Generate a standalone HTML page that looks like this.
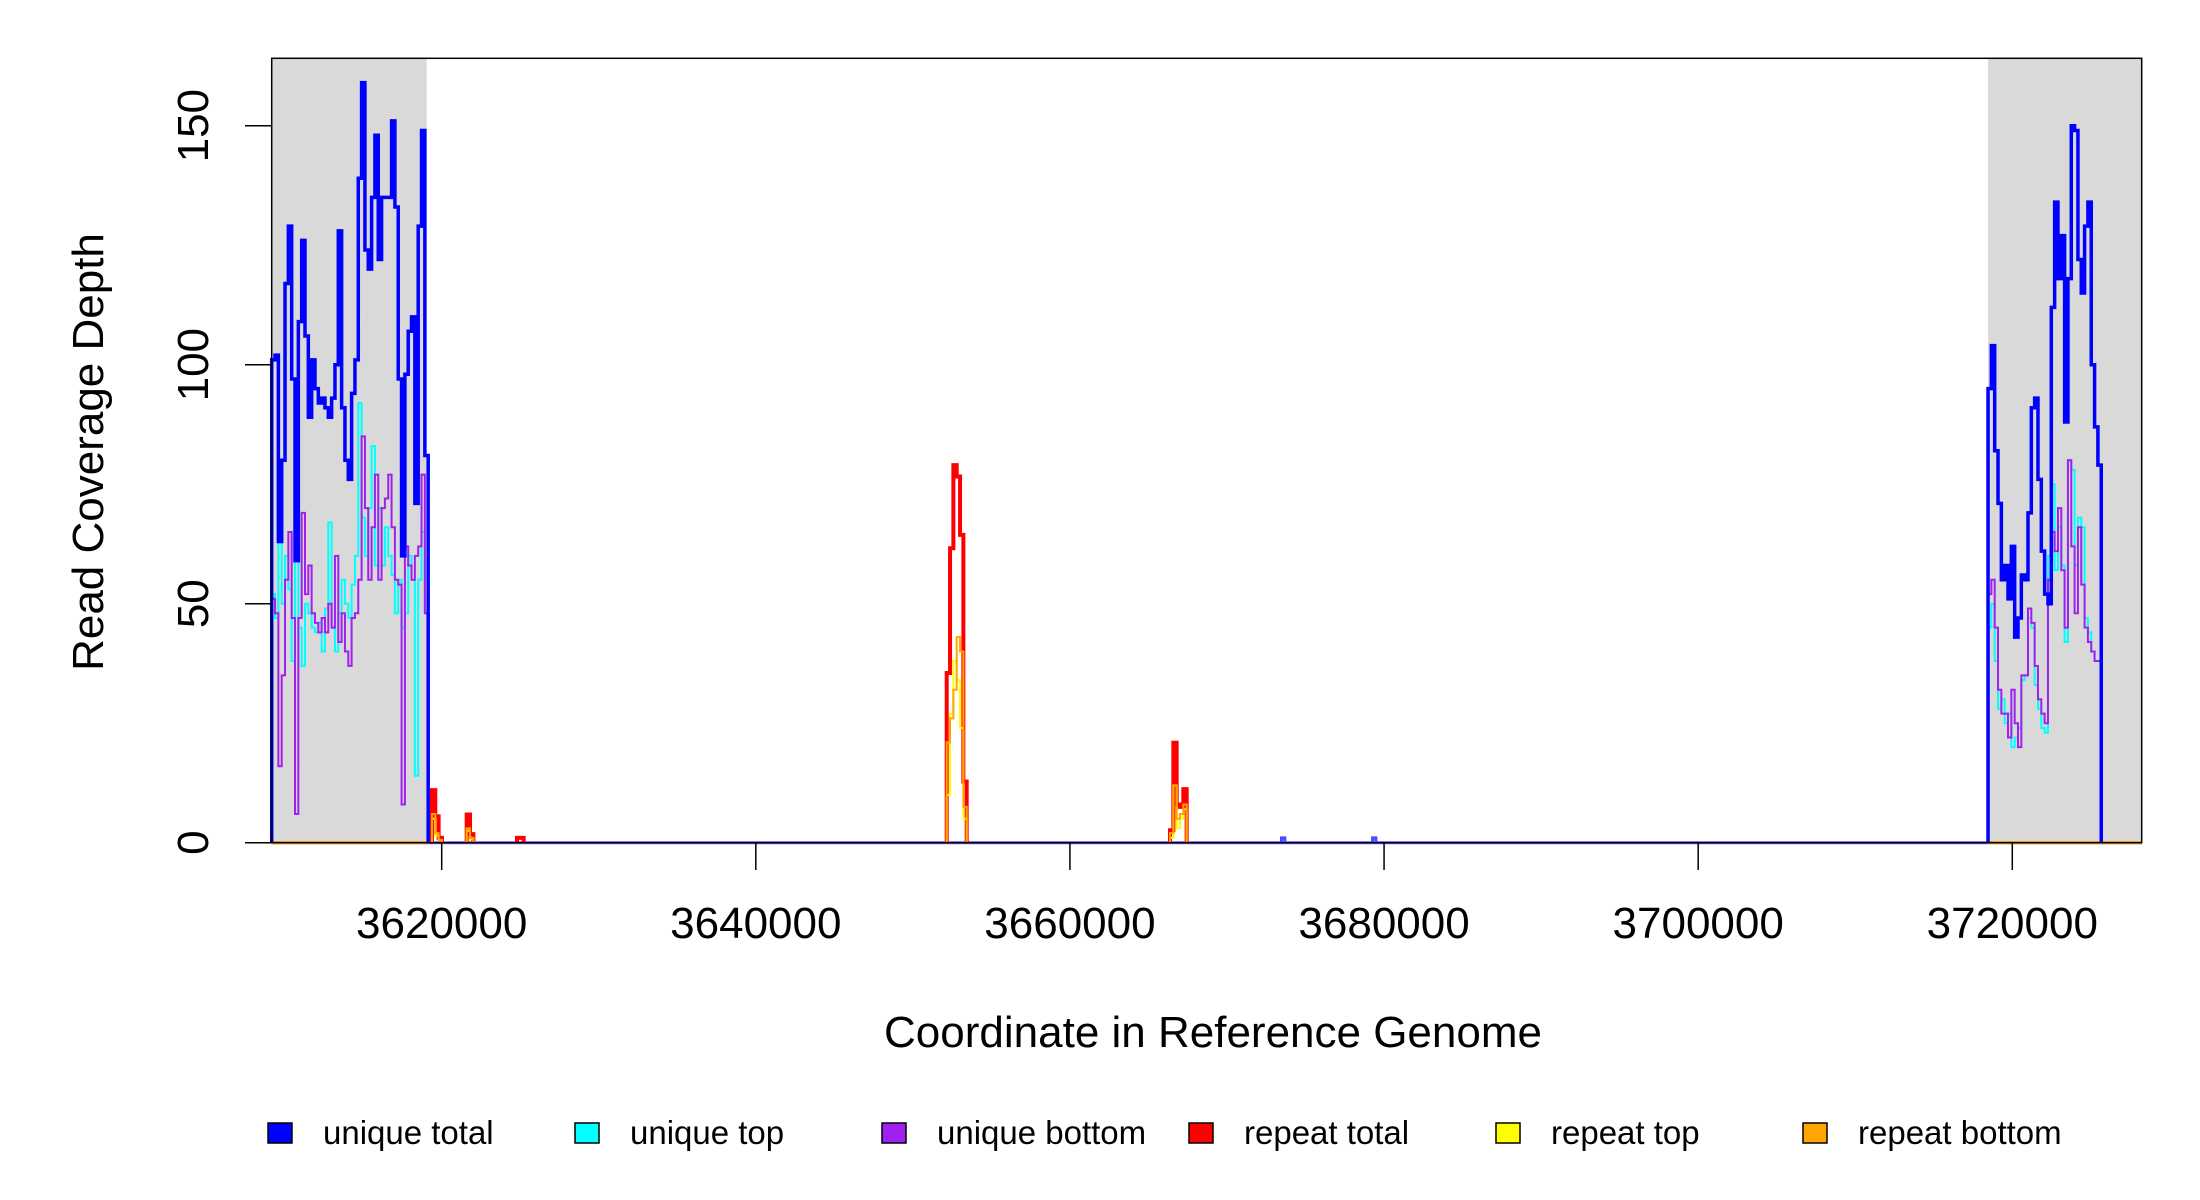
<!DOCTYPE html>
<html><head><meta charset="utf-8"><style>
html,body{margin:0;padding:0;background:#fff;}
svg{display:block;font-family:"Liberation Sans",Arial,sans-serif;}
</style></head><body>
<svg id="chart" width="2200" height="1200" viewBox="0 0 2200 1200" xmlns="http://www.w3.org/2000/svg">
<g id="shade"></g>
<g id="marks"></g>
<rect x="271.7" y="58.3" width="1870" height="784.4" fill="none" stroke="#000" stroke-width="1.5"/>
<g id="axes"></g>
<text x="1213" y="1047" font-size="44" text-anchor="middle">Coordinate in Reference Genome</text>
<text x="0" y="0" font-size="44" text-anchor="middle" transform="translate(103,452) rotate(-90)">Read Coverage Depth</text>
<g id="legend"></g>
</svg>
<script>
// ---- data ----
const xTicks = [3620000, 3640000, 3660000, 3680000, 3700000, 3720000];
const yTicks = [0, 50, 100, 150];
const binSize = 212;
const shadeRanges = [[3609176, 3619045], [3718455, 3728258]];
const legendLabels = ["unique total", "unique top", "unique bottom", "repeat total", "repeat top", "repeat bottom"];
const seriesColors = ["#0000ff", "#00ffff", "#a020f0", "#ff0000", "#ffff00", "#ffa500"];

const leftStart = 3609176;
const leftTotal = [101,102,63,80,117,129,97,59,109,126,106,89,101,95,92,93,91,89,93,100,128,91,80,76,94,101,139,159,124,120,135,148,122,135,135,135,151,133,97,60,98,107,110,71,129,149,81];
const leftTop = [52,47,69,50,60,53,38,62,45,37,50,48,45,44,46,40,49,67,45,40,48,55,50,47,54,60,92,68,60,70,83,58,70,58,66,60,56,48,55,45,48,60,55,14,55,65,48];
const leftBottom = [51,48,16,35,55,65,47,6,47,69,52,58,48,46,44,47,44,50,45,60,42,48,40,37,47,48,55,85,70,55,66,77,55,70,72,77,66,55,54,8,62,58,55,60,62,77,48];

const rightStart = 3718455;
const rightTotal = [95,104,82,71,55,58,51,62,43,47,56,55,69,91,93,76,61,52,50,112,134,118,127,88,118,150,149,122,115,129,134,100,87,79];
const rightTop = [45,50,38,28,30,25,27,20,22,24,34,35,47,45,33,28,24,23,60,75,57,66,58,42,80,78,58,68,66,47,44,40,38,38];
const rightBottom = [52,55,45,32,27,27,22,32,25,20,35,35,49,46,37,30,27,25,55,65,61,70,57,45,80,62,48,66,54,45,42,40,38,38];

const blip1Start = 3673470, blip1Total = [1];
const blip2Start = 3679270, blip2Total = [1];

const spikeAStart = 3619380;
const spikeATotal = [11, 5.5, 1];
const spikeATop = [5, 1.5, 0.5];
const spikeABottom = [6, 2, 0.5];
const spikeBStart = 3621592;
const spikeBTotal = [5.9, 1.8];
const spikeBTop = [2.5, 0.8];
const spikeBBottom = [3, 1];
const spikeCStart = 3624794;
const spikeCTotal = [1, 1];

const peak1Start = 3652154;
const peak1Total = [35.5, 61.6, 79, 76.6, 64.4, 12.8];
const peak1Top = [10, 27, 38, 34, 24, 5];
const peak1Bottom = [21, 26, 32, 43, 40, 7.5];
const peak2Start = 3666372;
const peak2Total = [2.6, 20.9, 8, 7.5, 11.2];
const peak2Top = [1, 12, 3, 5, 7];
const peak2Bottom = [2, 12, 5, 6, 8];

// ---- scales ----
const X0 = 271.7, X1 = 2141.7, Y0 = 842.7, YT = 58.3;
function xs(c){ return 441.7 + (c - 3620000) * (2012.3 - 441.7) / 100000; }
function ys(v){ return 842.7 - v * (842.7 - 125.7) / 150; }
const NS = "http://www.w3.org/2000/svg";
function mk(tag, parent){ const e = document.createElementNS(NS, tag); parent.appendChild(e); return e; }

const shade = document.getElementById('shade');
shadeRanges.forEach(r => {
  const e = mk('rect', shade);
  
  
  e.setAttribute('x', xs(r[0])); e.setAttribute('y', YT);
  e.setAttribute('width', xs(r[1]) - xs(r[0])); e.setAttribute('height', Y0 - YT);
  e.setAttribute('fill', '#d9d9d9');
});

const marks = document.getElementById('marks');
function stepPath(start, vals){
  let d = 'M' + xs(start).toFixed(2) + ',' + ys(0).toFixed(2);
  vals.forEach((v, i) => {
    d += ' V' + ys(v).toFixed(2) + ' H' + xs(start + (i + 1) * binSize).toFixed(2);
  });
  d += ' V' + ys(0).toFixed(2);
  return d;
}
function drawLine(x0c, x1c, color, w){
  const e = mk('line', marks);
  
  
  e.setAttribute('x1', xs(x0c)); e.setAttribute('x2', xs(x1c));
  e.setAttribute('y1', ys(0)); e.setAttribute('y2', ys(0));
  e.setAttribute('stroke', color); e.setAttribute('stroke-width', w);
}
function drawSeries(start, vals, color, w, name){
  const e = mk('path', marks);
  
  
  e.setAttribute('d', stepPath(start, vals));
  e.setAttribute('fill', 'none'); e.setAttribute('stroke', color);
  e.setAttribute('stroke-width', w); e.setAttribute('stroke-linejoin', 'miter');
}
drawLine(3609176, 3728258, '#6a5cff', 3);
shadeRanges.forEach(r => drawLine(r[0], r[1], '#ffa500', 3));

[[spikeAStart, spikeATotal, spikeATop, spikeABottom],
 [spikeBStart, spikeBTotal, spikeBTop, spikeBBottom],
 [peak1Start, peak1Total, peak1Top, peak1Bottom],
 [peak2Start, peak2Total, peak2Top, peak2Bottom]].forEach(g => {
  drawSeries(g[0], g[1], '#ff0000', 4, 'repeat-total-line');
  drawSeries(g[0], g[2], '#ffff00', 2, 'repeat-top-line');
  drawSeries(g[0], g[3], '#ffa500', 2, 'repeat-bottom-line');
});
drawSeries(spikeCStart, spikeCTotal, '#ff0000', 4, 'repeat-total-line');

[[leftStart, leftTotal, leftTop, leftBottom], [rightStart, rightTotal, rightTop, rightBottom]].forEach(g => {
  drawSeries(g[0], g[2], '#00ffff', 2, 'unique-top-line');
  drawSeries(g[0], g[3], '#a020f0', 2, 'unique-bottom-line');
  drawSeries(g[0], g[1], '#0000ff', 3.5, 'unique-total-line');
});
drawSeries(blip1Start, blip1Total, '#4a4aff', 3, 'unique-total-line');
drawSeries(blip2Start, blip2Total, '#4a4aff', 3, 'unique-total-line');

const axes = document.getElementById('axes');
xTicks.forEach(t => {
  const l = mk('line', axes);
  
  
  l.setAttribute('x1', xs(t)); l.setAttribute('x2', xs(t));
  l.setAttribute('y1', Y0); l.setAttribute('y2', 870);
  l.setAttribute('stroke', '#000'); l.setAttribute('stroke-width', 1.5);
  const tx = mk('text', axes);
  
  
  tx.setAttribute('x', xs(t)); tx.setAttribute('y', 938);
  tx.setAttribute('font-size', 44); tx.setAttribute('text-anchor', 'middle');
  tx.textContent = String(t);
});
yTicks.forEach(t => {
  const l = mk('line', axes);
  
  
  l.setAttribute('x1', 245); l.setAttribute('x2', X0);
  l.setAttribute('y1', ys(t)); l.setAttribute('y2', ys(t));
  l.setAttribute('stroke', '#000'); l.setAttribute('stroke-width', 1.5);
  const tx = mk('text', axes);
  
  
  tx.setAttribute('x', 0); tx.setAttribute('y', 0);
  tx.setAttribute('font-size', 44); tx.setAttribute('text-anchor', 'middle');
  tx.setAttribute('transform', 'translate(208,' + ys(t) + ') rotate(-90)');
  tx.textContent = String(t);
});

const legend = document.getElementById('legend');
legendLabels.forEach((lab, i) => {
  const r = mk('rect', legend);
  
  
  r.setAttribute('x', 268 + i * 307); r.setAttribute('y', 1123);
  r.setAttribute('width', 24); r.setAttribute('height', 20);
  r.setAttribute('fill', seriesColors[i]); r.setAttribute('stroke', '#000'); r.setAttribute('stroke-width', 1.5);
  const t = mk('text', legend);
  
  
  t.setAttribute('x', 323 + i * 307); t.setAttribute('y', 1144);
  t.setAttribute('font-size', 33);
  t.textContent = lab;
});
</script>
</body></html>
